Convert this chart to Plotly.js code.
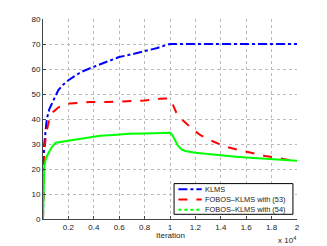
<!DOCTYPE html>
<html><head><meta charset="utf-8">
<script src="https://cdn.plot.ly/plotly-3.0.1.min.js"></script>
<style>html,body{margin:0;padding:0;background:#fff}#c{width:327px;height:246px}</style>
</head><body><div id="c"></div>
<script>
const seriesNames = ["KLMS", "FOBOS\u2013KLMS with (53)", "FOBOS\u2013KLMS with (54)"];
const seriesColors = ["#0000ff", "#ff0000", "#00ff00"];
const xKLMS = [0, 0.002, 0.005, 0.01, 0.02, 0.03, 0.05, 0.08, 0.12, 0.16, 0.2, 0.25, 0.3, 0.4, 0.5, 0.6, 0.7, 0.8, 0.9, 0.97, 1.0, 1.2, 1.4, 1.6, 1.8, 2.0];
const yKLMS = [0, 15, 24, 30, 36, 40, 44, 47.5, 51.5, 53.8, 55.5, 57.2, 58.8, 60.9, 63, 64.8, 65.9, 67, 68.4, 69.6, 70, 70, 70, 70, 70, 70];
const xF53 = [0, 0.002, 0.005, 0.01, 0.02, 0.03, 0.05, 0.08, 0.12, 0.16, 0.21, 0.3, 0.37, 0.5, 0.6, 0.7, 0.8, 0.92, 0.98, 1.0, 1.02, 1.05, 1.1, 1.17, 1.24, 1.35, 1.45, 1.55, 1.65, 1.75, 1.86, 1.95, 2.0];
const yF53 = [0, 12, 20, 26, 32, 35.5, 40, 42.8, 44.6, 45.5, 46.2, 46.5, 46.8, 46.8, 47.0, 47.4, 47.4, 48.1, 48.2, 47.8, 46, 42.5, 39.5, 36.3, 33.5, 30.8, 28.8, 27.5, 26.3, 25.2, 24.3, 23.5, 23];
const xF54 = [0, 0.002, 0.004, 0.01, 0.02, 0.03, 0.05, 0.07, 0.1, 0.15, 0.2, 0.25, 0.29, 0.35, 0.45, 0.55, 0.68, 0.8, 0.9, 0.98, 1.0, 1.02, 1.04, 1.06, 1.09, 1.12, 1.2, 1.3, 1.4, 1.5, 1.6, 1.7, 1.8, 1.9, 2.0];
const yF54 = [0, 10, 18, 21, 23.5, 25, 27, 28.8, 30.5, 30.9, 31.2, 31.8, 32.2, 32.6, 33.3, 33.6, 34.1, 34.2, 34.5, 34.6, 34.5, 33.5, 31.5, 29.5, 27.8, 27.2, 26.5, 25.9, 25.5, 25.0, 24.6, 24.2, 23.9, 23.6, 23.3];
const xTicks = [0.2, 0.4, 0.6, 0.8, 1, 1.2, 1.4, 1.6, 1.8, 2];
const xTickText = ["0.2", "0.4", "0.6", "0.8", "1", "1.2", "1.4", "1.6", "1.8", "2"];
const yTicks = [0, 10, 20, 30, 40, 50, 60, 70, 80];
const lineDashes = ["dashdot", "dash", "dot"];

const traces = [
  {x: xKLMS, y: yKLMS, name: seriesNames[0], mode: "lines", line: {color: seriesColors[0], width: 2, dash: "dashdot"}},
  {x: xF53, y: yF53, name: seriesNames[1], mode: "lines", line: {color: seriesColors[1], width: 2, dash: "dash"}},
  {x: xF54, y: yF54, name: seriesNames[2], mode: "lines", line: {color: seriesColors[2], width: 2}}
];
const font = {family: "Liberation Sans, Arial, sans-serif", size: 8, color: "#222"};
const legFont = {family: "Liberation Sans, Arial, sans-serif", size: 7.4, color: "#222"};

// custom compact legend (paper coordinates)
const shapes = [{type: "rect", xref: "paper", yref: "paper", x0: 0.516, x1: 0.984, y0: 0.0235, y1: 0.177,
  fillcolor: "#fff", line: {color: "#000", width: 1}, layer: "above"}];
const annotations = [];
const rowY = [0.149, 0.098, 0.046];
seriesNames.forEach((n, i) => {
  shapes.push({type: "line", xref: "paper", yref: "paper", x0: 0.533, x1: 0.625, y0: rowY[i], y1: rowY[i],
    line: {color: seriesColors[i], width: 2, dash: lineDashes[i]}, layer: "above"});
  annotations.push({xref: "paper", yref: "paper", x: 0.634, y: rowY[i], xanchor: "left", yanchor: "middle",
    showarrow: false, text: n, font: legFont, borderpad: 0});
});
annotations.push({xref: "paper", yref: "paper", x: 0.5, y: -0.08, xanchor: "center", yanchor: "middle",
  showarrow: false, text: "Iteration", font: font, borderpad: 0});
annotations.push({xref: "paper", yref: "paper", x: 1.0, y: -0.105, xanchor: "right", yanchor: "middle",
  showarrow: false, text: "x 10<sup>4</sup>", font: font, borderpad: 0});

const layout = {
  width: 327, height: 246,
  margin: {l: 43, r: 30, t: 19, b: 27},
  paper_bgcolor: "#fff", plot_bgcolor: "#fff",
  font: font,
  showlegend: false,
  xaxis: {range: [0, 2], tickvals: xTicks, ticktext: xTickText, showgrid: true, gridcolor: "#bbb", griddash: "dot", gridwidth: 1,
    zeroline: false, showline: true, linecolor: "#444", linewidth: 1, ticks: "inside", ticklen: 3, tickcolor: "#444", tickfont: font},
  yaxis: {range: [0, 80], tickvals: yTicks, showgrid: true, gridcolor: "#bbb", griddash: "dot", gridwidth: 1,
    zeroline: false, showline: true, linecolor: "#444", linewidth: 1, ticks: "inside", ticklen: 3, tickcolor: "#444", tickfont: font},
  shapes: shapes,
  annotations: annotations
};
Plotly.newPlot("c", traces, layout, {displayModeBar: false, staticPlot: true});
</script></body></html>
